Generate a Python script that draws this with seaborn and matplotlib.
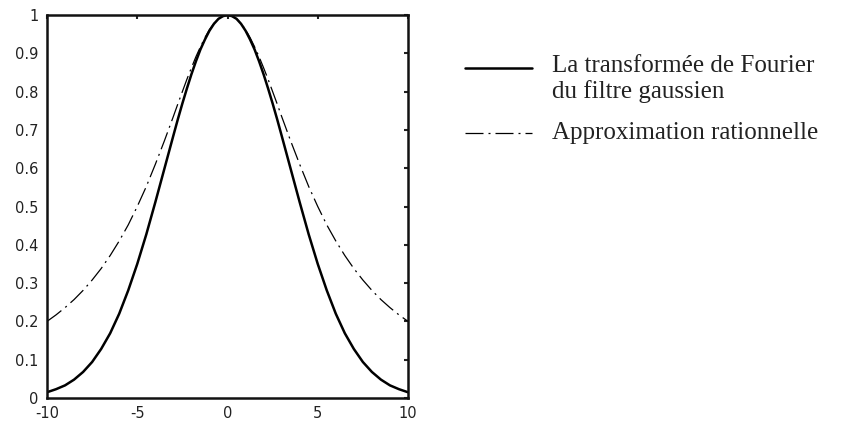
import numpy as np
import pandas as pd
import matplotlib
matplotlib.use("Agg")
import matplotlib.pyplot as plt
from matplotlib.lines import Line2D
import seaborn as sns

# values (symmetric around 0)
x_vals = [-10, -9.5, -9, -8.5, -8, -7.5, -7, -6.5, -6, -5.5, -5, -4.5, -4, -3.5, -3,
          -2.75, -2.5, -2.25, -2, -1.75, -1.5, -1.25, -1, -0.75, -0.5, -0.25, 0,
          0.25, 0.5, 0.75, 1, 1.25, 1.5, 1.75, 2, 2.25, 2.5, 2.75, 3,
          3.5, 4, 4.5, 5, 5.5, 6, 6.5, 7, 7.5, 8, 8.5, 9, 9.5, 10]
gauss_vals = [0.015, 0.023, 0.033, 0.048, 0.068, 0.094, 0.128, 0.169, 0.220, 0.281, 0.350,
              0.427, 0.511, 0.598, 0.685,
              0.728, 0.769, 0.808, 0.845, 0.879, 0.910, 0.936, 0.959, 0.977, 0.990, 0.997, 1.000,
              0.997, 0.990, 0.977, 0.959, 0.936, 0.910, 0.879, 0.845, 0.808, 0.769, 0.728, 0.685,
              0.598, 0.511, 0.427, 0.350, 0.281, 0.220, 0.169, 0.128, 0.094, 0.068, 0.048,
              0.033, 0.023, 0.015]
rational_vals = [0.200, 0.217, 0.236, 0.257, 0.281, 0.308, 0.338, 0.372, 0.410, 0.452, 0.500,
                 0.552, 0.610, 0.671, 0.735,
                 0.768, 0.800, 0.832, 0.862, 0.891, 0.917, 0.941, 0.962, 0.978, 0.990, 0.998, 1.000,
                 0.998, 0.990, 0.978, 0.962, 0.941, 0.917, 0.891, 0.862, 0.832, 0.800, 0.768, 0.735,
                 0.671, 0.610, 0.552, 0.500, 0.452, 0.410, 0.372, 0.338, 0.308, 0.281, 0.257,
                 0.236, 0.217, 0.200]
x_ticks = [-10, -5, 0, 5, 10]
y_ticks = [0, 0.1, 0.2, 0.3, 0.4, 0.5, 0.6, 0.7, 0.8, 0.9, 1]
y_ticklabels = ["0", "0.1", "0.2", "0.3", "0.4", "0.5", "0.6", "0.7", "0.8", "0.9", "1"]
label_gauss = "La transformée de Fourier\ndu filtre gaussien"
label_rational = "Approximation rationnelle"

df = pd.DataFrame({"x": x_vals, "gauss": gauss_vals, "rational": rational_vals})

sns.set_style("white")
plt.rcParams["font.family"] = ["DejaVu Sans"]

fig = plt.figure(figsize=(8.66, 4.25), dpi=100)
ax = fig.add_axes([47 / 866, 1 - 398 / 425, (408 - 47) / 866, (398 - 15) / 425])

sns.lineplot(data=df, x="x", y="rational", ax=ax, color="black", linewidth=0.9)
sns.lineplot(data=df, x="x", y="gauss", ax=ax, color="black", linewidth=1.8)
ax.lines[0].set_dashes((14.4, 4, 1.6, 4))
for ln in ax.lines:
    ln.set_solid_joinstyle("round")

ax.set_xlim(-10, 10)
ax.set_ylim(0, 1)
ax.set_xticks(x_ticks)
ax.set_xticklabels([str(t) for t in x_ticks])
ax.set_yticks(y_ticks)
ax.set_yticklabels(y_ticklabels)
ax.set_xlabel("")
ax.set_ylabel("")
ax.tick_params(direction="in", length=3, width=1.5, top=True, right=True,
               labelsize=10.5, colors="#222222", pad=6)
for s in ax.spines.values():
    s.set_linewidth(1.8)
    s.set_color("#111111")
    s.set_visible(True)

# legend drawn by hand beside the axes
serif = ["Liberation Serif", "DejaVu Serif"]
fig.add_artist(Line2D([465 / 866, 532 / 866], [1 - 68 / 425, 1 - 68 / 425],
                      color="black", linewidth=1.8))
dash = Line2D([465 / 866, 532 / 866], [1 - 133 / 425, 1 - 133 / 425],
              color="black", linewidth=0.9)
dash.set_dashes((14.4, 4, 1.6, 4))
fig.add_artist(dash)
fig.text(552 / 866, 1 - 72 / 425, label_gauss.split("\n")[0], family=serif,
         fontsize=18, va="baseline", ha="left", color="#222222")
fig.text(552 / 866, 1 - 98 / 425, label_gauss.split("\n")[1], family=serif,
         fontsize=18, va="baseline", ha="left", color="#222222")
fig.text(552 / 866, 1 - 139 / 425, label_rational, family=serif,
         fontsize=18, va="baseline", ha="left", color="#222222")

fig.savefig("out.png", dpi=100)
